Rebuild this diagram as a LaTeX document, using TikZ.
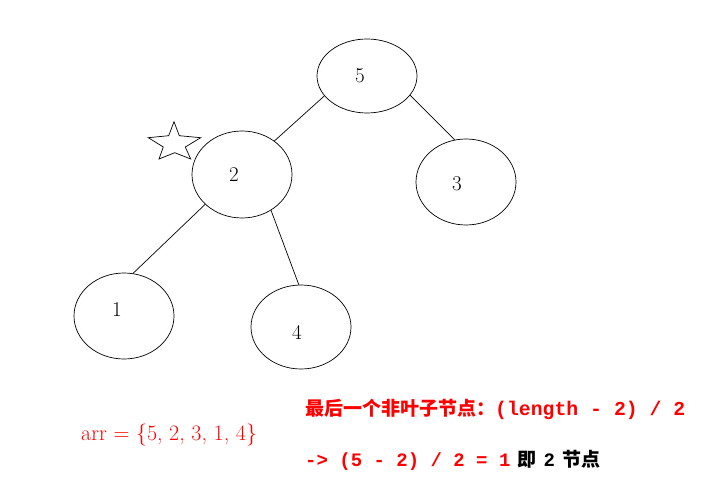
\documentclass[tikz,border=0pt]{standalone}
\usepackage{fontspec}
\setmonofont{Liberation Mono}
\newfontfamily\cjk{Noto Sans CJK SC}
\usetikzlibrary{shapes.geometric}
\tikzset{
	treenode/.style={draw, ellipse, inner sep=0pt, minimum width=100pt, minimum height=86pt, line width=0.7pt},
	numtext/.style={inner sep=0pt, font=\fontsize{21}{24}\selectfont},
	edge/.style={line width=0.7pt},
	notetext/.style={inner sep=0pt, anchor=base west, font=\fontsize{19}{22}\selectfont\bfseries}
}
\begin{document}
\begin{tikzpicture}[x=1pt, y=-1pt]
				\useasboundingbox (0,0) rectangle (722,497);
				% ellipses of the tree
				\node[treenode, minimum height=74pt] (n5) at (367,76) {};
				\node[treenode, minimum height=87pt] (n2) at (242,174.5) {};
				\node[treenode] (n3) at (466,182) {};
				\node[treenode] (n1) at (124,316) {};
				\node[treenode, minimum height=84pt] (n4) at (301,327) {};
				% numbers
				\node[numtext] (t5) at (360,76) {5};
				\node[numtext] (t2) at (234,175) {2};
				\node[numtext] (t3) at (457,184) {3};
				\node[numtext] (t1) at (117,310) {1};
				\node[numtext] (t4) at (297,332) {4};
				% edges
				\draw[edge] (n5.205) -- (n2.46);
				\draw[edge] (n5.336) -- (n3.105);
				\draw[edge] (n2.219) -- (n1.78);
				\draw[edge] (n2.309) -- (n4.93);
				% star
				\draw[edge] (174,121.7) -- (179.3,135.7) -- (200.7,137.7) -- (185.3,147) -- (190.7,159)
					-- (174.7,152.7) -- (159,159) -- (163.3,147) -- (148.3,137.7) -- (168.7,135.7) -- cycle;
				% texts
				\node[inner sep=0pt, anchor=base west, text=red, font=\fontsize{22}{26}\selectfont] (arr) at (81,440) {arr = \{5, 2, 3, 1, 4\}};
				\node[notetext, text=red] (note1) at (305,415) {{\cjk 最后一个非叶子节点：}{\fontsize{19.8}{22}\selectfont\texttt{(length - 2) / 2}}};
				\node[notetext] (note2) at (305,466) {\textcolor{red}{\texttt{-> (5 - 2) / 2 = 1}} {\cjk 即} \texttt{2} {\cjk 节点}};
			\end{tikzpicture}
\end{document}
